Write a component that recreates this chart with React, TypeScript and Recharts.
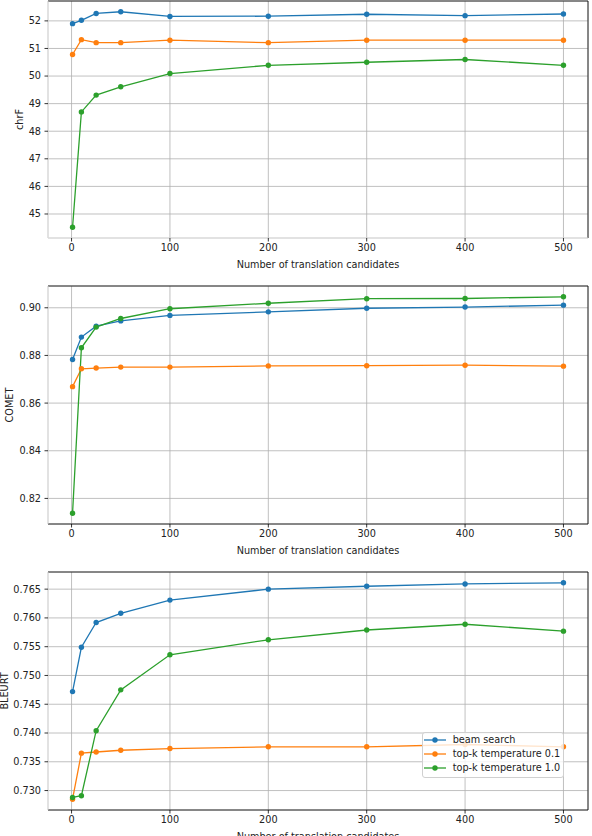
import React from "react"
import { LineChart, Line, XAxis, YAxis, CartesianGrid, ReferenceLine, Legend } from "recharts"

// number of translation candidates
const candidates = [1, 10, 25, 50, 100, 200, 300, 400, 500]
const xTicks = [0, 100, 200, 300, 400, 500]

const seriesNames = ["beam search", "top-k temperature 0.1", "top-k temperature 1.0"]
const COLORS = ["#1f77b4", "#ff7f0e", "#2ca02c"]

// chrF
const chrfBeam = [51.9, 52.02, 52.27, 52.33, 52.16, 52.17, 52.24, 52.19, 52.25]
const chrfTemp01 = [50.78, 51.32, 51.21, 51.21, 51.3, 51.21, 51.3, 51.3, 51.3]
const chrfTemp10 = [44.52, 48.7, 49.31, 49.61, 50.09, 50.39, 50.5, 50.6, 50.39]
const chrfTicks = [45, 46, 47, 48, 49, 50, 51, 52]

// COMET
const cometBeam = [0.8783, 0.8877, 0.8923, 0.8945, 0.8968, 0.8983, 0.8998, 0.9003, 0.9011]
const cometTemp01 = [0.8669, 0.8744, 0.8747, 0.8751, 0.8751, 0.8756, 0.8757, 0.8759, 0.8755]
const cometTemp10 = [0.8138, 0.8832, 0.8919, 0.8955, 0.8996, 0.9019, 0.9038, 0.9039, 0.9046]
const cometTicks = [0.82, 0.84, 0.86, 0.88, 0.9]

// BLEURT
const bleurtBeam = [0.7472, 0.7549, 0.7592, 0.7608, 0.7631, 0.765, 0.7655, 0.7659, 0.7661]
const bleurtTemp01 = [0.7285, 0.7365, 0.7367, 0.737, 0.7373, 0.7376, 0.7376, 0.738, 0.7376]
const bleurtTemp10 = [0.7288, 0.7291, 0.7404, 0.7475, 0.7536, 0.7562, 0.7579, 0.7589, 0.7577]
const bleurtTicks = [0.73, 0.735, 0.74, 0.745, 0.75, 0.755, 0.76, 0.765]

const FONT = "'DejaVu Sans', sans-serif"
const FS = 9.7
const TEXT = "#222"

// matplotlib-like auto limits: 5% margin on each side
function padded(values: number[]): [number, number] {
  const lo = Math.min(...values)
  const hi = Math.max(...values)
  const m = (hi - lo) * 0.05
  return [lo - m, hi + m]
}

function renderLegend(props: any) {
  const payload = props.payload || []
  return (
    <div
      style={{
        width: 142,
        height: 46,
        boxSizing: "border-box",
        border: "1px solid #d0d0d0",
        borderRadius: 3,
        background: "rgba(255,255,255,0.8)",
        paddingTop: 0,
        fontFamily: FONT,
        fontSize: FS,
        color: TEXT,
      }}
    >
      {payload.map((entry: any) => (
        <div key={entry.value} style={{ display: "flex", alignItems: "center", height: 14.3 }}>
          <svg width={30} height={14} style={{ flex: "none" }}>
            <line x1={1} x2={23} y1={7} y2={7} stroke={entry.color} strokeWidth={1.3} />
            <circle cx={12} cy={7} r={2.7} fill={entry.color} />
          </svg>
          <span style={{ whiteSpace: "nowrap", lineHeight: "14px" }}>{entry.value}</span>
        </div>
      ))}
    </div>
  )
}

interface PanelProps {
  top: number
  height: number
  marginTop: number
  yLabel: string
  yLabelOffset: number
  ticks: number[]
  digits: number
  beam: number[]
  temp01: number[]
  temp10: number[]
  bottomSpine: string
  showLegend?: boolean
}

function Panel({ top, height, marginTop, yLabel, yLabelOffset, ticks, digits, beam, temp01, temp10, bottomSpine, showLegend }: PanelProps) {
  const rows = candidates.map((n, i) => ({ n, beam: beam[i], temp01: temp01[i], temp10: temp10[i] }))
  const xDomain = padded(candidates)
  const yDomain = padded([...beam, ...temp01, ...temp10])
  const keys = ["beam", "temp01", "temp10"]

  return (
    <div style={{ position: "absolute", left: 0, top }}>
      <LineChart width={592} height={height} data={rows} margin={{ top: marginTop, right: 4, left: 0, bottom: 0 }}>
        <CartesianGrid stroke="#b0b0b0" strokeWidth={0.8} />
        <XAxis
          dataKey="n"
          type="number"
          domain={xDomain}
          ticks={xTicks}
          height={32}
          tickSize={3.5}
          tickMargin={3}
          tick={{ fontSize: FS, fill: TEXT, fontFamily: FONT }}
          tickLine={{ stroke: "#000", strokeWidth: 0.8 }}
          axisLine={{ stroke: bottomSpine, strokeWidth: 0.8 }}
          label={{ value: "Number of translation candidates", position: "insideBottom", offset: 2.5, fontSize: FS, fill: TEXT, fontFamily: FONT }}
        />
        <YAxis
          type="number"
          domain={yDomain}
          ticks={ticks}
          width={48}
          tickSize={3.5}
          tickMargin={3.5}
          tickFormatter={(v: number) => (digits === 0 ? String(v) : v.toFixed(digits))}
          tick={{ fontSize: FS, fill: TEXT, fontFamily: FONT }}
          tickLine={{ stroke: "#000", strokeWidth: 0.8 }}
          axisLine={{ stroke: "#e6e6e6", strokeWidth: 0.8 }}
          label={{
            value: yLabel,
            angle: -90,
            position: "insideLeft",
            offset: yLabelOffset,
            fontSize: FS,
            fill: TEXT,
            fontFamily: FONT,
            style: { textAnchor: "middle" },
          }}
        />
        <ReferenceLine x={xDomain[1]} stroke="#000" strokeWidth={0.8} />
        <ReferenceLine y={yDomain[1]} stroke="#000" strokeWidth={0.8} />
        {keys.map((k, i) => (
          <Line
            key={k}
            type="linear"
            dataKey={k}
            name={seriesNames[i]}
            stroke={COLORS[i]}
            strokeWidth={1.3}
            dot={{ r: 2.7, fill: COLORS[i], stroke: COLORS[i], strokeWidth: 0 }}
            activeDot={false}
            isAnimationActive={false}
          />
        ))}
        {showLegend && (
          <Legend
            layout="vertical"
            align="center"
            verticalAlign="middle"
            content={renderLegend}
            wrapperStyle={{ position: "absolute", left: 421.7, top: 175.7, width: 142, height: 46 }}
          />
        )}
      </LineChart>
    </div>
  )
}

export default function App() {
  return (
    <div
      style={{
        position: "absolute",
        left: 0,
        top: 0,
        width: 592,
        height: 836,
        overflow: "hidden",
        background: "#fff",
        fontFamily: FONT,
      }}
    >
      <Panel
        top={0}
        height={270}
        marginTop={1}
        yLabel="chrF"
        yLabelOffset={20}
        ticks={chrfTicks}
        digits={0}
        beam={chrfBeam}
        temp01={chrfTemp01}
        temp10={chrfTemp10}
        bottomSpine="#e6e6e6"
      />
      <Panel
        top={270}
        height={286}
        marginTop={16}
        yLabel="COMET"
        yLabelOffset={10}
        ticks={cometTicks}
        digits={2}
        beam={cometBeam}
        temp01={cometTemp01}
        temp10={cometTemp10}
        bottomSpine="#000"
      />
      <Panel
        top={556}
        height={286}
        marginTop={16}
        yLabel="BLEURT"
        yLabelOffset={5}
        ticks={bleurtTicks}
        digits={3}
        beam={bleurtBeam}
        temp01={bleurtTemp01}
        temp10={bleurtTemp10}
        bottomSpine="#000"
        showLegend
      />
    </div>
  )
}
